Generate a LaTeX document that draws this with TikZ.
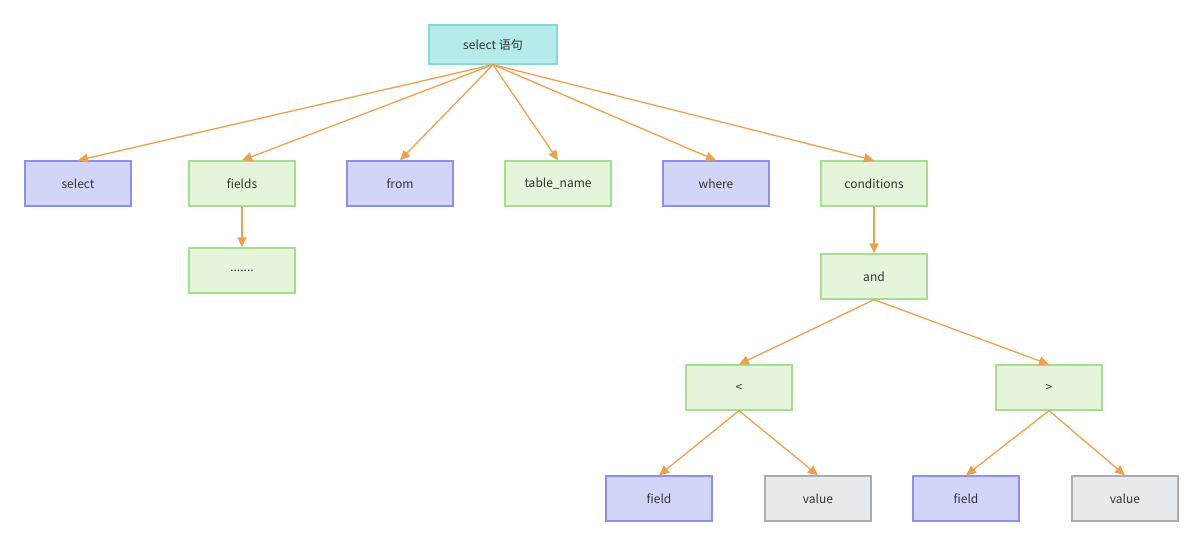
\documentclass[tikz,border=0pt]{standalone}
\usepackage{fontspec}
\setmainfont{Noto Sans CJK SC}
\usetikzlibrary{arrows.meta}
\definecolor{kwfill}{HTML}{D3D5F8}
\definecolor{kwdraw}{HTML}{8C8FEF}
\definecolor{idfill}{HTML}{E4F5DC}
\definecolor{iddraw}{HTML}{A5DE8C}
\definecolor{valfill}{HTML}{E7EAED}
\definecolor{valdraw}{HTML}{ABABAB}
\definecolor{rootfill}{HTML}{B6EBEB}
\definecolor{rootdraw}{HTML}{85D8D8}
\definecolor{edgecol}{HTML}{F0A04B}
\tikzset{
    box/.style = {rectangle, line width = 1.3pt, minimum width = 106pt, minimum height = 45pt, inner sep = 0pt, font = \fontsize{12}{14}\selectfont, text = black!80},
    kw/.style = {box, fill = kwfill, draw = kwdraw},
    ident/.style = {box, fill = idfill, draw = iddraw},
    val/.style = {box, fill = valfill, draw = valdraw},
    edge/.style = {draw = edgecol, line width = 1.3pt, -{Triangle[length = 10pt, width = 9pt]}}
}
\begin{document}
\begin{tikzpicture}[x = 1pt, y = -1pt]
        \useasboundingbox (0, 0) rectangle (1203, 546);
        \node[box, fill = rootfill, draw = rootdraw, minimum width = 128pt, minimum height = 39pt] (root) at (493, 44.5) {select 语句};
        \node[kw] (select) at (78, 183.5) {select};
        \node[ident] (fields) at (242, 183.5) {fields};
        \node[kw] (from) at (400, 183.5) {from};
        \node[ident] (table) at (558, 183.5) {table\_name};
        \node[kw] (where) at (716, 183.5) {where};
        \node[ident] (cond) at (874, 183.5) {conditions};
        \node[ident] (more) at (242, 270.5) {.......};
        \node[ident] (and) at (874, 276.5) {and};
        \node[ident] (lt) at (739, 387.5) {<};
        \node[ident] (gt) at (1049, 387.5) {>};
        \node[kw] (field1) at (659, 498.5) {field};
        \node[val] (value1) at (818, 498.5) {value};
        \node[kw] (field2) at (966, 498.5) {field};
        \node[val] (value2) at (1125, 498.5) {value};
        \foreach \c in {select, fields, from, table, where, cond}{
            \draw[edge] (root.south) -- (\c.north);
        }
        \draw[edge] (fields.south) -- (more.north);
        \draw[edge] (cond.south) -- (and.north);
        \draw[edge] (and.south) -- (lt.north);
        \draw[edge] (and.south) -- (gt.north);
        \draw[edge] (lt.south) -- (field1.north);
        \draw[edge] (lt.south) -- (value1.north);
        \draw[edge] (gt.south) -- (field2.north);
        \draw[edge] (gt.south) -- (value2.north);
    \end{tikzpicture}
\end{document}
